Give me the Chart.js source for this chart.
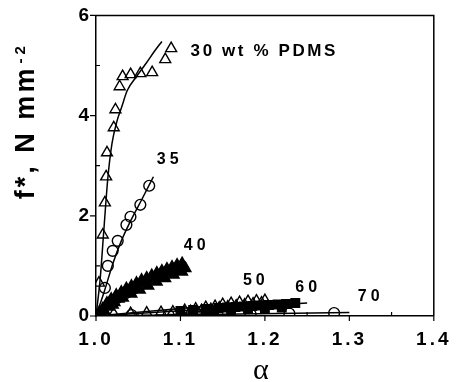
<!DOCTYPE html>
<html>
<head>
<meta charset="utf-8">
<script src="https://cdn.jsdelivr.net/npm/chart.js@4/dist/chart.umd.min.js"></script>
<style>
  html, body { margin: 0; padding: 0; background: #fff; }
  #wrap { width: 459px; height: 382px; }
</style>
</head>
<body>
<div id="wrap"><canvas id="c" width="459" height="382"></canvas></div>
<script>
// Extension ratio (alpha) and reduced force f* (N mm^-2) for each PDMS content

// 30 wt % PDMS — open triangles
const alpha30 = [1.0035, 1.008, 1.0105, 1.012, 1.013, 1.021, 1.023, 1.028, 1.0315, 1.041, 1.0525, 1.0665, 1.082, 1.089];
const force30 = [0.66, 1.62, 2.26, 2.78, 3.26, 3.76, 4.12, 4.58, 4.78, 4.82, 4.84, 4.86, 5.12, 5.34];
const fitAlpha30 = [1.0, 1.005, 1.0093, 1.014, 1.019, 1.025, 1.030, 1.037, 1.048, 1.060, 1.069, 1.078];
const fitForce30 = [0, 0.75, 1.72, 2.75, 3.45, 3.9, 4.15, 4.5, 4.78, 5.06, 5.28, 5.48];

// 35 wt % — open circles
const alpha35 = [1.0105, 1.014, 1.0198, 1.0257, 1.036, 1.0408, 1.0525, 1.063];
const force35 = [0.56, 1.0, 1.3, 1.5, 1.82, 1.98, 2.22, 2.6];
const fitAlpha35 = [1.0, 1.01, 1.02, 1.03, 1.041, 1.055, 1.068];
const fitForce35 = [0, 0.5, 1.05, 1.5, 1.9, 2.35, 2.78];

// 40 wt % — filled triangles (three overlapping runs)
const alpha40 = [1.004, 1.008, 1.013, 1.018, 1.024, 1.030, 1.036, 1.042, 1.048, 1.054, 1.060, 1.066, 1.072, 1.078, 1.084, 1.090, 1.096, 1.102,
                 1.010, 1.015, 1.022, 1.032, 1.042, 1.052, 1.062, 1.072, 1.082, 1.092, 1.102, 1.106,
                 1.006, 1.020, 1.027, 1.038, 1.047, 1.057, 1.067, 1.077, 1.087, 1.097];
const force40 = [0.08, 0.15, 0.26, 0.34, 0.42, 0.48, 0.55, 0.60, 0.66, 0.72, 0.76, 0.81, 0.86, 0.90, 0.94, 0.98, 1.02, 1.05,
                 0.10, 0.18, 0.27, 0.36, 0.44, 0.52, 0.60, 0.68, 0.75, 0.82, 0.88, 0.95,
                 0.05, 0.22, 0.34, 0.46, 0.55, 0.64, 0.72, 0.80, 0.86, 0.92];
const fitAlpha40 = [1.0, 1.105];
const fitForce40 = [0, 1.0];

// 50 wt % — open triangles
const alpha50 = [1.005, 1.021, 1.041, 1.060, 1.077, 1.091, 1.105, 1.118, 1.130, 1.141, 1.150, 1.160, 1.170, 1.180, 1.190, 1.200,
                 1.112, 1.125, 1.136, 1.146, 1.156, 1.166, 1.176, 1.186, 1.196];
const force50 = [0.04, 0.05, 0.06, 0.07, 0.08, 0.09, 0.12, 0.15, 0.18, 0.20, 0.24, 0.26, 0.28, 0.30, 0.31, 0.32,
                 0.10, 0.12, 0.14, 0.17, 0.19, 0.21, 0.23, 0.25, 0.27];
const fitAlpha50 = [1.0, 1.2];
const fitForce50 = [0, 0.3];

// 60 wt % — filled squares
const alpha60 = [1.10, 1.115, 1.13, 1.145, 1.155, 1.165, 1.175, 1.185, 1.195, 1.205, 1.215, 1.225, 1.236,
                 1.14, 1.16, 1.18, 1.20, 1.22];
const force60 = [0.10, 0.12, 0.14, 0.16, 0.17, 0.18, 0.19, 0.20, 0.21, 0.22, 0.23, 0.24, 0.26,
                 0.10, 0.12, 0.14, 0.15, 0.17];
const fitAlpha60 = [1.0, 1.25];
const fitForce60 = [0, 0.26];

// 70 wt % — open circles
const alpha70 = [1.042, 1.086, 1.131, 1.183, 1.229, 1.282];
const force70 = [0.02, 0.02, 0.03, 0.04, 0.05, 0.06];
const fitAlpha70 = [1.0, 1.30];
const fitForce70 = [0, 0.07];

// Axis ticks
const xMajor = [1.0, 1.1, 1.2, 1.3, 1.4];
const xMinor = [1.05, 1.15, 1.25, 1.35];
const yMajor = [0, 2, 4, 6];
const yMinor = [1, 3, 5];

const pts = (xs, ys) => xs.map((x, i) => ({ x: x, y: ys[i] }));

function markers(xs, ys, style, filled, r) {
  return {
    data: pts(xs, ys), showLine: false, pointStyle: style,
    pointRadius: r, pointHoverRadius: r,
    pointBackgroundColor: filled ? '#000' : 'rgba(0,0,0,0)',
    pointBorderColor: '#000', pointBorderWidth: 1.4
  };
}
function fitLine(xs, ys, smooth) {
  return {
    data: pts(xs, ys), showLine: true, pointRadius: 0, borderColor: '#000',
    borderWidth: 1.5, fill: false,
    cubicInterpolationMode: smooth ? 'monotone' : 'default', tension: 0
  };
}

const datasets = [
  markers(alpha30, force30, 'triangle', false, 6.3),
  markers(alpha35, force35, 'circle', false, 5.4),
  markers(alpha40, force40, 'triangle', true, 6.2),
  markers(alpha50, force50, 'triangle', false, 5.8),
  markers(alpha60, force60, 'rect', true, 6),
  markers(alpha70, force70, 'circle', false, 5.4),
  fitLine(fitAlpha30, fitForce30, true),
  fitLine(fitAlpha35, fitForce35, true),
  fitLine(fitAlpha40, fitForce40, false),
  fitLine(fitAlpha50, fitForce50, false),
  fitLine(fitAlpha60, fitForce60, false),
  fitLine(fitAlpha70, fitForce70, false)
];

// Series tags, axis titles, framing box and tick marks
const decorations = {
  id: 'decorations',
  beforeDraw(chart) { chart.ctx.letterSpacing = '3px'; },
  afterDraw(chart) {
    const ctx = chart.ctx, xs = chart.scales.x, ys = chart.scales.y;
    const a = chart.chartArea;
    ctx.save();
    ctx.letterSpacing = '0px';
    ctx.strokeStyle = '#000';
    ctx.lineWidth = 1.5;
    // box
    ctx.beginPath();
    ctx.moveTo(a.left, a.top); ctx.lineTo(a.right, a.top); ctx.lineTo(a.right, a.bottom);
    ctx.stroke();
    // ticks
    ctx.lineWidth = 1.2;
    ctx.beginPath();
    xMajor.forEach(v => { const p = xs.getPixelForValue(v); ctx.moveTo(p, a.bottom); ctx.lineTo(p, a.bottom + 5); });
    xMinor.forEach(v => { const p = xs.getPixelForValue(v); ctx.moveTo(p, a.bottom); ctx.lineTo(p, a.bottom - 4); });
    yMajor.forEach(v => { const p = ys.getPixelForValue(v); ctx.moveTo(a.left - 6, p); ctx.lineTo(a.left, p); });
    yMinor.forEach(v => { const p = ys.getPixelForValue(v); ctx.moveTo(a.left, p); ctx.lineTo(a.left + 4, p); });
    ctx.stroke();

    // series tags
    ctx.fillStyle = '#000';
    ctx.textBaseline = 'middle';
    ctx.textAlign = 'left';
    const tags = chart.options.plugins.decorations.tags;
    tags.forEach(t => {
      ctx.font = 'bold ' + t.size + 'px "Liberation Sans", Arial, sans-serif';
      ctx.letterSpacing = t.spacing + 'px';
      ctx.fillText(t.text, xs.getPixelForValue(t.x), ys.getPixelForValue(t.y));
    });

    // y title, rotated, with superscript exponent
    ctx.letterSpacing = '3px';
    ctx.font = 'bold 27px "Liberation Sans", Arial, sans-serif';
    const main = 'f*, N mm';
    const wMain = ctx.measureText(main).width;
    ctx.font = 'bold 15px "Liberation Sans", Arial, sans-serif';
    ctx.letterSpacing = '4px';
    const sup = '-2';
    const wSup = ctx.measureText(sup).width;
    const cy = (a.top + a.bottom) / 2 - 44;
    ctx.save();
    ctx.translate(34, cy);
    ctx.rotate(-Math.PI / 2);
    ctx.textBaseline = 'alphabetic';
    const start = -(wMain + wSup) / 2;
    ctx.font = 'bold 27px "Liberation Sans", Arial, sans-serif';
    ctx.letterSpacing = '3px';
    ctx.fillText(main, start, 0);
    ctx.font = 'bold 15px "Liberation Sans", Arial, sans-serif';
    ctx.letterSpacing = '4px';
    ctx.fillText(sup, start + wMain + 2, -9);
    ctx.restore();

    // x title
    ctx.letterSpacing = '0px';
    ctx.font = '30px "Liberation Serif", "Times New Roman", serif';
    ctx.textAlign = 'center';
    ctx.textBaseline = 'alphabetic';
    ctx.fillText('\u03B1', (a.left + a.right) / 2 - 4, 379);
    ctx.restore();
  }
};

new Chart(document.getElementById('c'), {
  type: 'scatter',
  data: { datasets: datasets },
  options: {
    responsive: false,
    animation: false,
    events: [],
    layout: { padding: { left: 0, right: 20, top: 15, bottom: 0 } },
    plugins: {
      legend: { display: false },
      tooltip: { enabled: false },
      decorations: {
        tags: [
          { text: '30 wt % PDMS', x: 1.112, y: 5.28, size: 17, spacing: 2.6 },
          { text: '35', x: 1.072, y: 3.12, size: 16, spacing: 4 },
          { text: '40', x: 1.104, y: 1.4, size: 16, spacing: 4 },
          { text: '50', x: 1.174, y: 0.7, size: 16, spacing: 4 },
          { text: '60', x: 1.236, y: 0.56, size: 16, spacing: 4 },
          { text: '70', x: 1.31, y: 0.38, size: 16, spacing: 4 }
        ]
      }
    },
    scales: {
      x: {
        type: 'linear', min: 1.0, max: 1.4,
        afterFit: s => { s.height = 66; },
        grid: { display: true, drawOnChartArea: false, drawTicks: false, color: 'rgba(0,0,0,0)' },
        border: { display: true, color: '#000', width: 1.5 },
        ticks: {
          stepSize: 0.1, maxRotation: 0, autoSkip: false, padding: 12, color: '#000',
          font: { family: '"Liberation Sans", Arial, sans-serif', size: 19, weight: 'bold' },
          callback: v => Number(v).toFixed(1)
        }
      },
      y: {
        type: 'linear', min: 0, max: 6,
        afterFit: s => { s.width = 96; },
        grid: { display: true, drawOnChartArea: false, drawTicks: false, color: 'rgba(0,0,0,0)' },
        border: { display: true, color: '#000', width: 1.5 },
        ticks: {
          stepSize: 2, padding: 4, color: '#000',
          font: { family: '"Liberation Sans", Arial, sans-serif', size: 19, weight: 'bold' }
        }
      }
    }
  },
  plugins: [decorations]
});
</script>
</body>
</html>
